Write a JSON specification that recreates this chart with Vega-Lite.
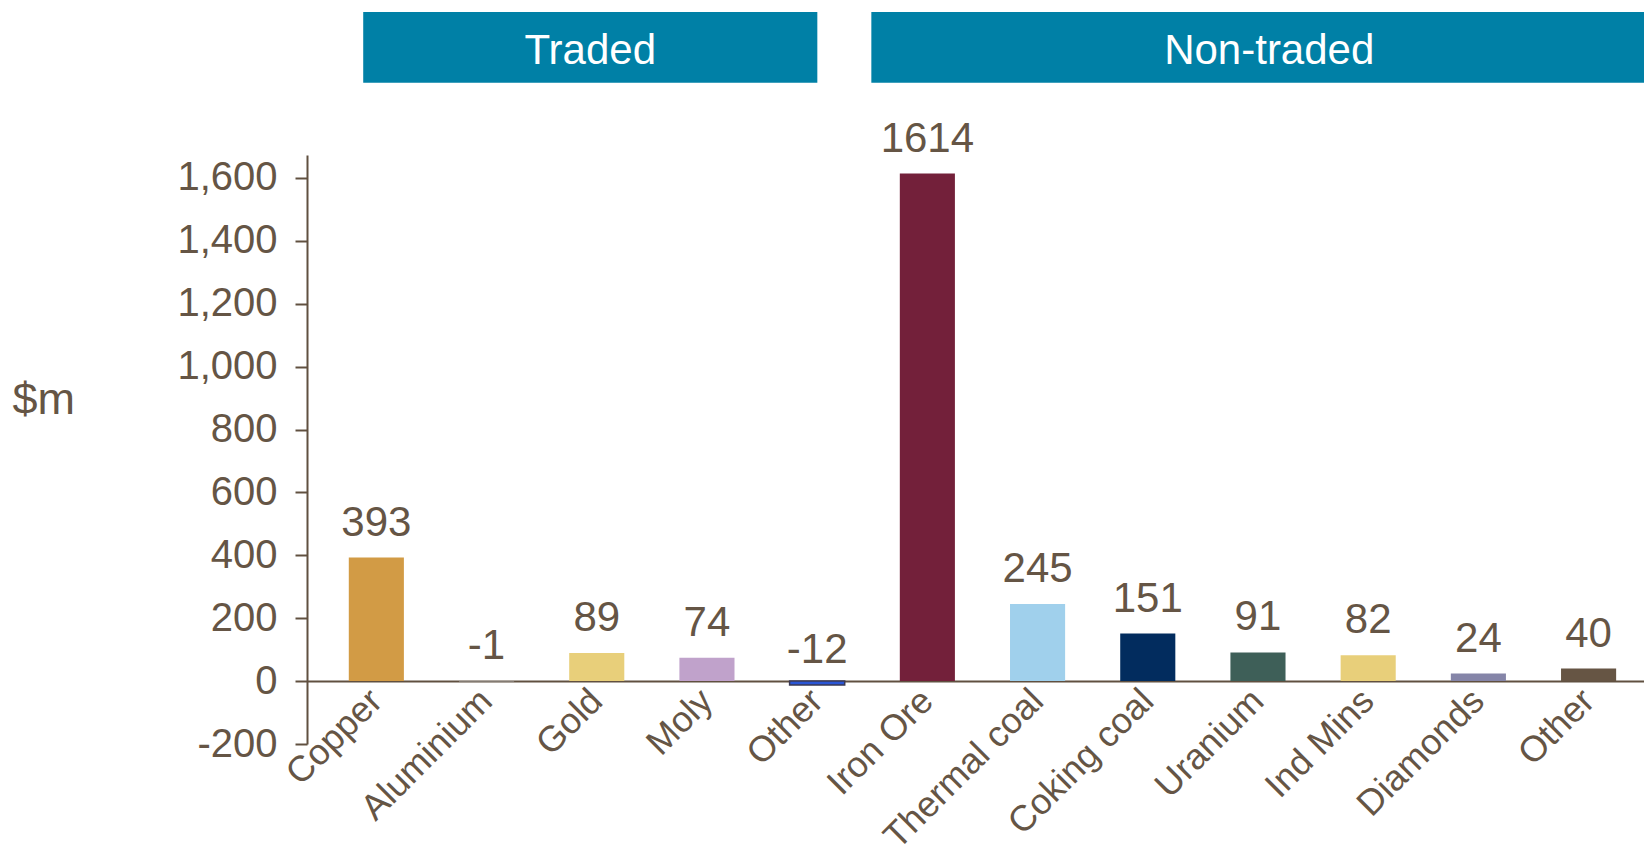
{
  "$schema": "https://vega.github.io/schema/vega-lite/v6.json",
  "width": 1337,
  "height": 589,
  "autosize": {"type": "none"},
  "padding": {"left": 307, "top": 155, "right": 0, "bottom": 115},
  "background": "white",
  "config": {"view": {"stroke": null}, "font": "Liberation Sans"},
  "datasets": {
    "bars": [
      {"key": "Copper", "group": "Traded", "value": 393},
      {"key": "Aluminium", "group": "Traded", "value": -1},
      {"key": "Gold", "group": "Traded", "value": 89},
      {"key": "Moly", "group": "Traded", "value": 74},
      {"key": "Other (traded)", "group": "Traded", "value": -12},
      {"key": "Iron Ore", "group": "Non-traded", "value": 1614},
      {"key": "Thermal coal", "group": "Non-traded", "value": 245},
      {"key": "Coking coal", "group": "Non-traded", "value": 151},
      {"key": "Uranium", "group": "Non-traded", "value": 91},
      {"key": "Ind Mins", "group": "Non-traded", "value": 82},
      {"key": "Diamonds", "group": "Non-traded", "value": 24},
      {"key": "Other (non-traded)", "group": "Non-traded", "value": 40}
    ],
    "headers": [
      {"group": "Traded", "start": -0.12, "end": 4.0, "mid": 1.94, "bottom": 1903, "top": 2128, "textY": 1962},
      {"group": "Non-traded", "start": 4.49, "end": 11.5, "mid": 8.1, "bottom": 1903, "top": 2128, "textY": 1962}
    ]
  },
  "resolve": {"scale": {"x": "independent"}, "axis": {"x": "independent"}},
  "layer": [
    {
      "data": {"name": "bars"},
      "layer": [
        {
          "mark": {"type": "bar"},
          "encoding": {
            "x": {
              "field": "key", "type": "nominal", "sort": null,
              "scale": {"paddingInner": 0.5, "paddingOuter": 0.316, "align": 0.6},
              "axis": {
                "title": null, "offset": -63, "domainColor": "#605040", "domainWidth": 2,
                "ticks": false, "labelAngle": -45, "labelAlign": "right", "labelBaseline": "middle",
                "labelFontSize": 36, "labelColor": "#655545", "labelPadding": 14, "labelLimit": 500,
                "labelExpr": "indexof(datum.value, 'Other') == 0 ? 'Other' : datum.value"
              }
            },
            "y": {
              "field": "value", "type": "quantitative",
              "scale": {"domain": [-200, 1673], "nice": false, "zero": false},
              "axis": {
                "title": "$m", "values": [-200, 0, 200, 400, 600, 800, 1000, 1200, 1400, 1600],
                "labelExpr": "datum.value < 0 ? '-' + format(-datum.value, ',') : format(datum.value, ',')",
                "grid": false, "domain": true, "domainColor": "#605040", "domainWidth": 2,
                "ticks": true, "tickColor": "#605040", "tickSize": 12, "tickWidth": 2,
                "labelFontSize": 40, "labelColor": "#655545", "labelPadding": 18,
                "titleAngle": 0, "titleX": -295, "titleY": 258, "titleAlign": "left",
                "titleBaseline": "alphabetic", "titleFontSize": 45, "titleFontWeight": "normal",
                "titleColor": "#655545"
              }
            },
            "color": {
              "field": "key", "type": "nominal", "legend": null,
              "scale": {
                "domain": ["Copper", "Aluminium", "Gold", "Moly", "Other (traded)", "Iron Ore", "Thermal coal", "Coking coal", "Uranium", "Ind Mins", "Diamonds", "Other (non-traded)"],
                "range": ["#D29B45", "#A6A6A6", "#E8CF7A", "#C0A2CB", "#2A56D6", "#73203A", "#A0D0EC", "#022C5E", "#3E5F58", "#E8CF7A", "#8585A8", "#665544"]
              }
            },
            "stroke": {
              "condition": {"test": "datum.key == 'Other (traded)'", "value": "#3A3A55"},
              "value": null
            },
            "strokeWidth": {"value": 1.5}
          }
        },
        {
          "mark": {"type": "text", "baseline": "alphabetic", "align": "center", "dy": -22, "fontSize": 42, "color": "#655545"},
          "encoding": {
            "x": {"field": "key", "type": "nominal", "sort": null},
            "y": {"field": "value", "type": "quantitative"},
            "text": {"field": "value", "type": "nominal"}
          }
        }
      ]
    },
    {
      "data": {"name": "headers"},
      "layer": [
        {
          "mark": {"type": "rect", "color": "#0080A6"},
          "encoding": {
            "x": {"field": "start", "type": "quantitative", "scale": {"domain": [-0.63, 11.5], "nice": false, "zero": false}, "axis": null},
            "x2": {"field": "end"},
            "y": {"field": "bottom", "type": "quantitative"},
            "y2": {"field": "top"}
          }
        },
        {
          "mark": {"type": "text", "baseline": "alphabetic", "align": "center", "fontSize": 42, "color": "white"},
          "encoding": {
            "x": {"field": "mid", "type": "quantitative", "scale": {"domain": [-0.63, 11.5], "nice": false, "zero": false}, "axis": null},
            "y": {"field": "textY", "type": "quantitative"},
            "text": {"field": "group", "type": "nominal"}
          }
        }
      ]
    }
  ]
}
